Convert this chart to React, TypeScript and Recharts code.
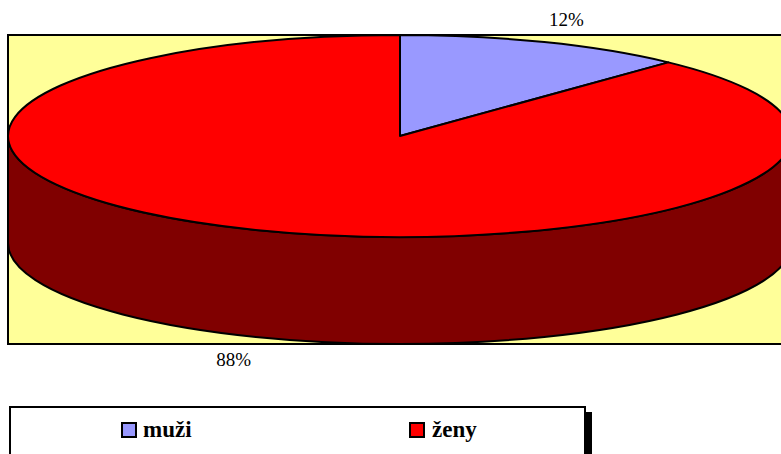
import React from 'react';
import { PieChart, Pie, Cell, Legend } from 'recharts';

const names = ['muži', 'ženy'];
const values = [12, 88];
const colors = ['#9999FF', '#FF0000'];
const sideColors = ['#4D4D80', '#800000'];

const data = names.map((n, i) => ({ name: n, value: values[i] }));

const TILT = 101 / 392;
const DEPTH = 107;
const RAD = Math.PI / 180;
const FONT = 'Liberation Serif, Times New Roman, DejaVu Serif, serif';

function makePt(cx: number, cy: number, rx: number, ry: number) {
  return (a: number, dy = 0): [number, number] => [
    cx + rx * Math.cos(a * RAD),
    cy - ry * Math.sin(a * RAD) + dy,
  ];
}

function arcSeg(pt: (a: number, dy?: number) => [number, number], rx: number, ry: number, a0: number, a1: number, dy: number) {
  let d = '';
  const n = Math.max(1, Math.ceil(Math.abs(a1 - a0) / 90));
  const sweep = a1 < a0 ? 1 : 0;
  for (let k = 1; k <= n; k++) {
    const a = a0 + ((a1 - a0) * k) / n;
    const [x, y] = pt(a, dy);
    d += ` A ${rx} ${ry} 0 0 ${sweep} ${x} ${y}`;
  }
  return d;
}

function Slice3D(props: any) {
  const { cx, cy, outerRadius, startAngle, endAngle, fill } = props;
  const name = props.payload?.name ?? props.name;
  const idx = Math.max(0, names.indexOf(name));
  const rx = outerRadius;
  const ry = outerRadius * TILT;
  const pt = makePt(cx, cy, rx, ry);
  const lo = Math.min(startAngle, endAngle);
  const hi = Math.max(startAngle, endAngle);
  const sides: string[] = [];
  for (let k = -2; k <= 1; k++) {
    const fLo = -180 + 360 * k;
    const fHi = 360 * k;
    const a = Math.max(lo, fLo);
    const b = Math.min(hi, fHi);
    if (b - a > 0.01) {
      const [x0, y0] = pt(a);
      const [x1, y1] = pt(b, DEPTH);
      sides.push(
        `M ${x0} ${y0}` + arcSeg(pt, rx, ry, a, b, 0) + ` L ${x1} ${y1}` + arcSeg(pt, rx, ry, b, a, DEPTH) + ' Z'
      );
    }
  }
  const [sx, sy] = pt(startAngle);
  const top = `M ${cx} ${cy} L ${sx} ${sy}` + arcSeg(pt, rx, ry, startAngle, endAngle, 0) + ' Z';
  return (
    <g>
      {sides.map((d, i) => (
        <path key={i} d={d} fill={sideColors[idx]} stroke="#000" strokeWidth={2} strokeLinejoin="round" />
      ))}
      <path d={top} fill={fill} stroke="#000" strokeWidth={2} strokeLinejoin="round" />
    </g>
  );
}

function renderLabel(props: any) {
  const { cx, cy, midAngle, outerRadius, percent } = props;
  const rx = outerRadius + 60;
  const ry = outerRadius * TILT + 24;
  const s = Math.sin(midAngle * RAD);
  const x = cx + rx * Math.cos(midAngle * RAD);
  const y = cy - ry * s + (s < 0 ? DEPTH : 0);
  return (
    <text x={x} y={y} textAnchor="middle" dominantBaseline="central" style={{ fontFamily: FONT }} fontSize={19} fill="#000">
      {`${Math.round(percent * 100)}%`}
    </text>
  );
}

function LegendBox(props: any) {
  const payload = props.payload || [];
  return (
    <div style={{ position: 'relative', width: 577, height: 48, fontFamily: FONT }}>
      <div
        style={{
          position: 'absolute',
          left: 0,
          top: 0,
          width: 577,
          height: 60,
          boxSizing: 'border-box',
          border: '2px solid #000',
          background: '#fff',
        }}
      />
      <div style={{ position: 'absolute', left: 577, top: 6, width: 6, height: 60, background: '#000' }} />
      {payload.map((p: any, i: number) => (
        <React.Fragment key={i}>
          <div
            style={{
              position: 'absolute',
              left: 112 + i * 288,
              top: 16,
              width: 16,
              height: 16,
              boxSizing: 'border-box',
              border: '2px solid #000',
              background: p.color,
            }}
          />
          <div
            style={{
              position: 'absolute',
              left: 134 + i * 289,
              top: 12,
              fontSize: 23,
              lineHeight: '23px',
              fontWeight: 'bold',
              fontFamily: FONT,
              color: '#000',
              whiteSpace: 'nowrap',
            }}
          >
            {p.value}
          </div>
        </React.Fragment>
      ))}
    </div>
  );
}

export default function App() {
  return (
    <div style={{ position: 'absolute', left: 0, top: 0, width: 781, height: 454, overflow: 'hidden', background: '#fff' }}>
      <div
        style={{
          position: 'absolute',
          left: 7,
          top: 34,
          width: 800,
          height: 311,
          boxSizing: 'border-box',
          border: '2px solid #000',
          background: '#FFFF99',
        }}
      />
      <PieChart width={781} height={454} margin={{ top: 0, right: 0, bottom: 0, left: 0 }}>
        <Pie
          data={data}
          dataKey="value"
          nameKey="name"
          cx={400}
          cy={136}
          outerRadius={392}
          startAngle={90}
          endAngle={-270}
          stroke="#000"
          isAnimationActive={false}
          shape={Slice3D}
          label={renderLabel}
          labelLine={false}
        >
          {data.map((d, i) => (
            <Cell key={d.name} fill={colors[i]} />
          ))}
        </Pie>
        <Legend
          content={LegendBox}
          wrapperStyle={{ position: 'absolute', left: 9, top: 406, bottom: 'auto', width: 577, height: 48 }}
        />
      </PieChart>
    </div>
  );
}
